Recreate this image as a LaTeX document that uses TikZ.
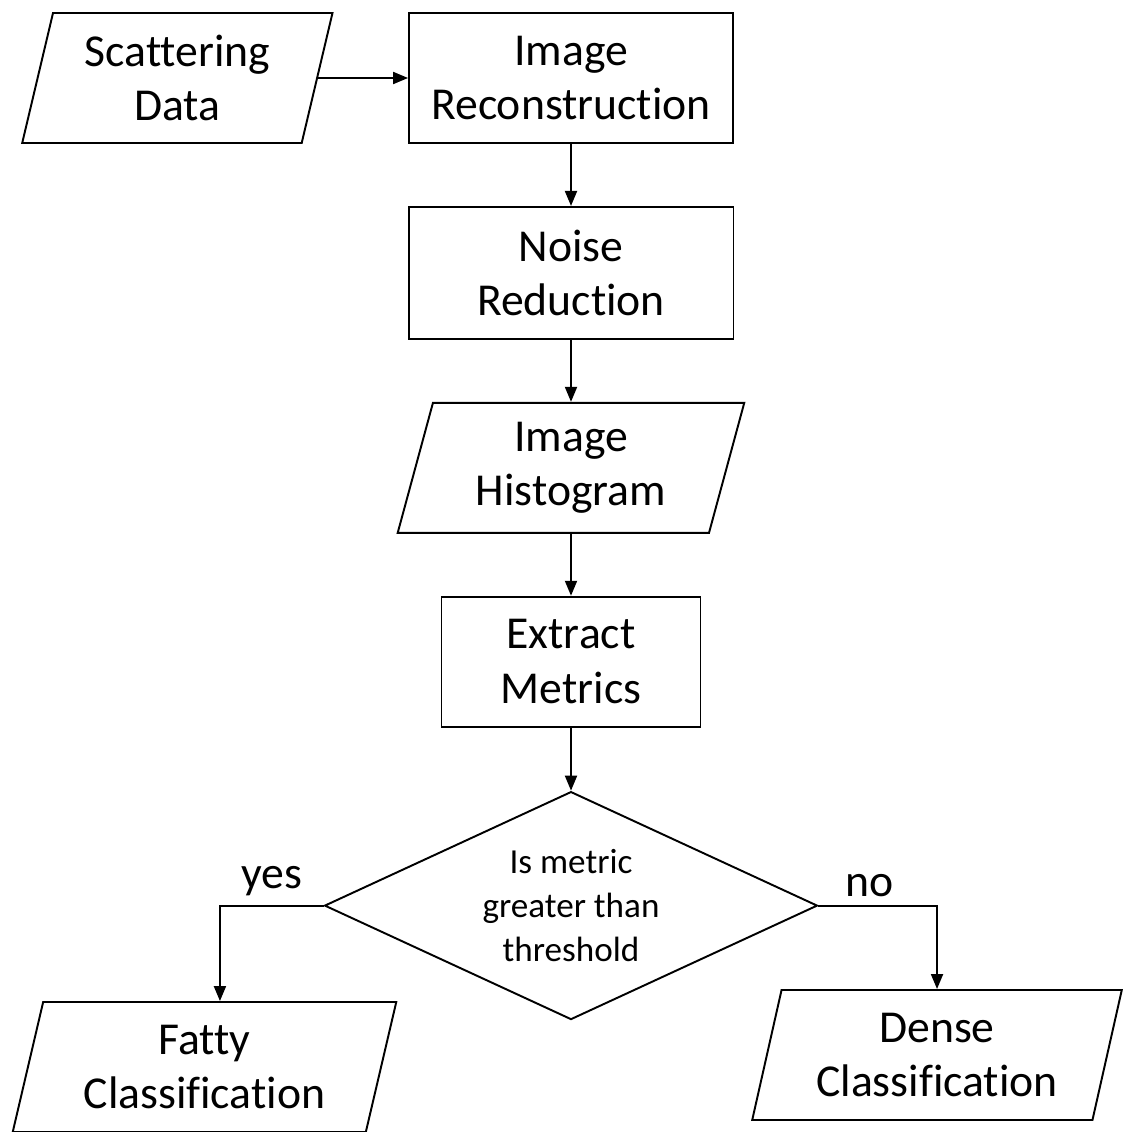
\documentclass[tikz,border=0pt]{standalone}
\usepackage{fontspec}
\setmainfont{Carlito}[Ligatures={NoCommon}]
\usetikzlibrary{arrows.meta,positioning,calc,shapes.geometric}

\begin{document}
\begin{tikzpicture}[x=0.02cm,y=-0.02cm,line width=1.1pt,
  every node/.style={font=\fontsize{26}{31}\selectfont},
  >={Triangle[length=3mm,width=2.4mm]},
  procbox/.style={draw,rectangle,align=center,minimum height=2.6cm},
  iobox/.style={draw,trapezium,trapezium left angle=76,trapezium right angle=104,
    trapezium stretches=true,align=center,minimum height=2.6cm},
  decbox/.style={draw,diamond,align=center,inner sep=0pt,aspect=2.16,
    minimum width=9.86cm,minimum height=4.56cm,font=\fontsize{20}{25}\selectfont}]
  \useasboundingbox (0,0) rectangle (1122,1132);
  % main column
  \node[procbox,minimum width=6.48cm] (recon) at (571,78) {Image\\Reconstruction};
  \node[procbox,minimum width=6.5cm,minimum height=2.64cm,below=1.24cm of recon] (noise) {Noise\\Reduction};
  \node[iobox,minimum width=6.94cm,below=1.24cm of noise] (hist) {Image\\Histogram};
  \node[procbox,minimum width=5.18cm,below=1.24cm of hist] (extract) {Extract\\Metrics};
  \node[decbox,below=1.26cm of extract] (dec) {Is metric\\greater than\\threshold};
  % input and outputs
  \node[iobox,minimum width=6.22cm,left=1.8cm of recon] (scat) {Scattering\\Data};
  \node[iobox,minimum width=7.68cm] (fatty) at (204.5,1067) {Fatty\\Classification};
  \node[iobox,minimum width=7.4cm] (dense) at (937,1055) {Dense\\Classification};
  \node (yes) at (272,881) {yes};
  \node (no) at (870,886) {no};
  % connectors
  \draw[->] (scat) -- (recon);
  \draw[->] (recon) -- (noise);
  \draw[->] (noise) -- (hist);
  \draw[->] (hist) -- (extract);
  \draw[->] (extract) -- (dec);
  \draw[->] (dec.west) -| ($(fatty.top left corner)!0.5!(fatty.top right corner)$);
  \draw[->] (dec.east) -| (dense.north);
\end{tikzpicture}
\end{document}
